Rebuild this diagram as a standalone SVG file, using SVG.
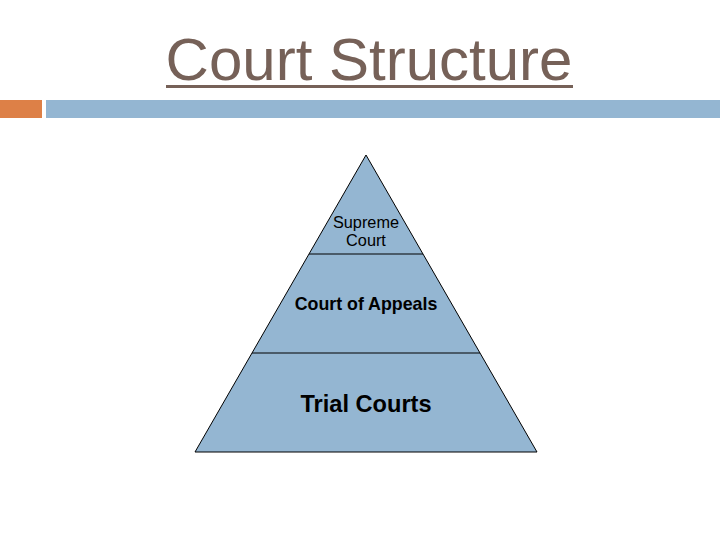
<svg xmlns="http://www.w3.org/2000/svg" width="720" height="540" viewBox="0 0 720 540">
<style>
.lbl{font-family:"Liberation Sans",Arial,sans-serif;fill:#000;text-anchor:middle}
.tier{fill:#94B6D2;stroke:#000;stroke-width:1}
</style>
<rect width="720" height="540" fill="#fff"/>
<g id="title">
<text x="369" y="80" font-family="'Liberation Sans',Arial,sans-serif" font-size="60" fill="#766158" text-anchor="middle">Court Structure</text>
<rect x="166" y="85" width="407" height="3" fill="#766158"/>
</g>
<g id="bars">
<rect x="0" y="100" width="42" height="18" fill="#DD8047"/>
<rect x="46" y="100" width="674" height="18" fill="#94B6D2"/>
</g>
<g id="pyramid">
<polygon class="tier" points="366,155 195,452 537,452"/>
</g>
<g id="connectors">
<line x1="309" y1="254" x2="423" y2="254" stroke="#000" stroke-width="1"/>
<line x1="252" y1="353" x2="480" y2="353" stroke="#000" stroke-width="1"/>
</g>
<g id="supreme">
<text class="lbl" x="366" y="228" font-size="16.3">Supreme</text>
<text class="lbl" x="366" y="246" font-size="16.3">Court</text>
</g>
<g id="appeals">
<text class="lbl" x="366" y="310" font-size="17.8" font-weight="bold">Court of Appeals</text>
</g>
<g id="trial">
<text class="lbl" x="366" y="412" font-size="23.6" font-weight="bold">Trial Courts</text>
</g>
</svg>
